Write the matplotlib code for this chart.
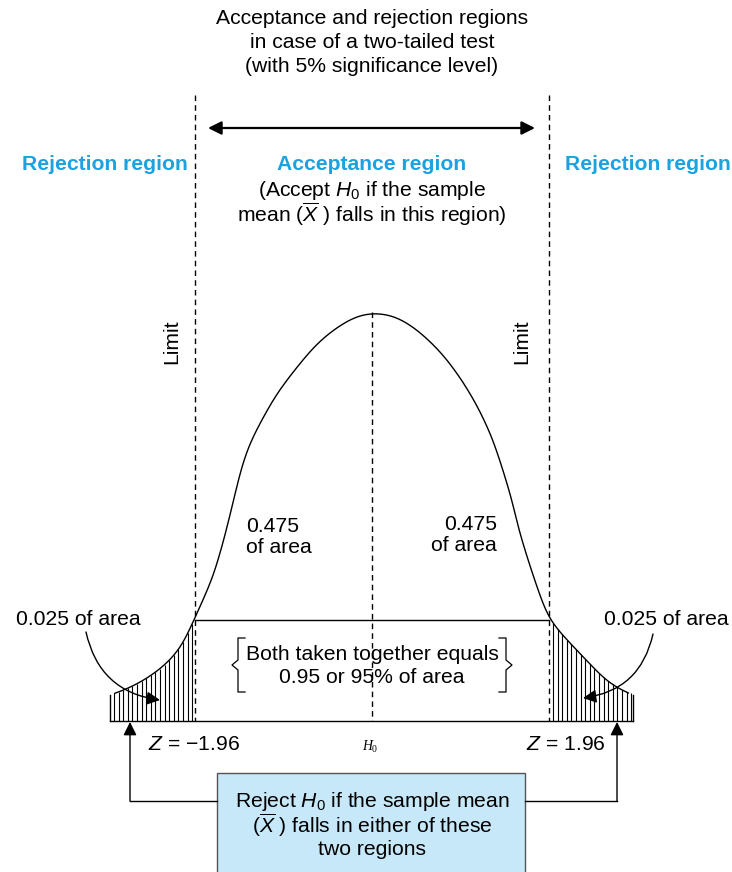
import numpy as np
import matplotlib
matplotlib.use("Agg")
import matplotlib.pyplot as plt
from matplotlib.patches import FancyArrowPatch, Rectangle

plt.rcParams['font.family'] = ['Liberation Sans', 'DejaVu Sans']
plt.rcParams['mathtext.fontset'] = 'custom'
plt.rcParams['mathtext.rm'] = 'Liberation Sans'
plt.rcParams['mathtext.it'] = 'Liberation Sans:italic'

# curve (pixel coords, y down)
curve_x = [110, 133, 160, 180, 194, 203, 213, 223, 232, 240, 248, 260, 277, 297, 317, 337, 357, 371,
           395, 418, 442, 462, 478, 492, 502, 512, 518, 528, 538, 549, 567, 589, 610, 633]
curve_y = [695, 687, 670, 650, 620, 600, 577, 543, 507, 473, 447, 423, 393, 367, 343, 327, 315, 312,
           315, 330, 353, 380, 407, 437, 467, 500, 527, 560, 590, 620, 640, 663, 685, 695]

title_lines = ['Acceptance and rejection regions', 'in case of a two-tailed test',
               '(with 5% significance level)']
box_lines = [r'Reject $H_{\mathregular{0}}$ if the sample mean',
             r'($\overline{X}$ ) falls in either of these', 'two regions']

base_y = 721
limit_left, limit_right, centre = 195, 549, 372
blue = '#1aa3e0'
box_blue = '#c6e8f8'
fs = 15.2


def smooth(xs, ys, n=900, win=61):
    # resample the traced polyline by arc length and soften the corners
    xs = np.asarray(xs, float)
    ys = np.asarray(ys, float)
    d = np.concatenate([[0], np.cumsum(np.hypot(np.diff(xs), np.diff(ys)))])
    s = np.linspace(0, d[-1], n)
    rx, ry = np.interp(s, d, xs), np.interp(s, d, ys)
    k = np.exp(-0.5 * (np.arange(win) - win // 2) ** 2 / (win / 5) ** 2)
    k /= k.sum()
    pad = win // 2
    px = np.concatenate([np.full(pad, rx[0]), rx, np.full(pad, rx[-1])])
    py = np.concatenate([np.full(pad, ry[0]), ry, np.full(pad, ry[-1])])
    return np.convolve(px, k, 'valid'), np.convolve(py, k, 'valid')


fig = plt.figure(figsize=(7.32, 8.72), dpi=100)
ax = fig.add_axes([0, 0, 1, 1])
ax.set_xlim(0, 732)
ax.set_ylim(872, 0)
ax.axis('off')

sx, sy = smooth(curve_x, curve_y)

# bell curve
ax.plot(sx, sy, color='black', lw=1.0)
ax.plot([curve_x[0], curve_x[-1]], [base_y, base_y], color='black', lw=1.0)
ax.plot([curve_x[0], curve_x[0]], [curve_y[0], base_y], color='black', lw=1.0)
ax.plot([curve_x[-1], curve_x[-1]], [curve_y[-1], base_y], color='black', lw=1.0)
ax.plot([limit_left, limit_right], [620, 620], color='black', lw=1.0)

# hatching in the tails
for xs in (np.arange(114, limit_left, 4.6), np.arange(553, 633, 4.6)):
    ys = np.interp(xs, sx, sy)
    ax.vlines(xs, ys, base_y, color='black', lw=0.8)

# limits and centre line
dash = (0, (4, 3))
ax.plot([limit_left, limit_left], [95, base_y], color='black', lw=1.0, ls=dash)
ax.plot([limit_right, limit_right], [95, base_y], color='black', lw=1.0, ls=dash)
ax.plot([centre, centre], [312, base_y], color='black', lw=1.0, ls=dash)

# top double arrow
ax.annotate('', xy=(208, 128), xytext=(535, 128),
            arrowprops=dict(arrowstyle='<|-|>', color='black', lw=1.6,
                            mutation_scale=20, shrinkA=0, shrinkB=0))

# texts
for i, line in enumerate(title_lines):
    ax.text(centre, 19 + 24 * i, line, ha='center', va='center', fontsize=fs)
ax.text(105, 165, 'Rejection region', ha='center', va='center', fontsize=fs, color=blue, weight='bold')
ax.text(648, 165, 'Rejection region', ha='center', va='center', fontsize=fs, color=blue, weight='bold')
ax.text(centre, 165, 'Acceptance region', ha='center', va='center', fontsize=fs, color=blue, weight='bold')
ax.text(centre, 190, r'(Accept $H_{\mathregular{0}}$ if the sample', ha='center', va='center', fontsize=fs)
ax.text(centre, 214, r'mean ($\overline{X}$ ) falls in this region)', ha='center', va='center', fontsize=fs)
ax.text(172, 342, 'Limit', rotation=90, ha='center', va='center', fontsize=fs)
ax.text(522, 342, 'Limit', rotation=90, ha='center', va='center', fontsize=fs)
ax.text(246, 537, '0.475\nof area', ha='left', va='center', fontsize=fs, linespacing=1.1)
ax.text(497, 535, '0.475\nof area', ha='right', va='center', fontsize=fs, linespacing=1.1)
ax.text(78, 619, '0.025 of area', ha='center', va='center', fontsize=fs)
ax.text(666, 619, '0.025 of area', ha='center', va='center', fontsize=fs)
ax.text(centre, 654, 'Both taken together equals', ha='center', va='center', fontsize=fs)
ax.text(centre, 677, '0.95 or 95% of area', ha='center', va='center', fontsize=fs)
ax.text(194, 744, r'$Z$ = $-$1.96', ha='center', va='center', fontsize=fs)
ax.text(566, 744, r'$Z$ = 1.96', ha='center', va='center', fontsize=fs)
ax.text(centre, 746, 'H', ha='right', va='center', fontsize=10, style='italic', family='Liberation Serif')
ax.text(centre, 749, '0', ha='left', va='center', fontsize=7, family='Liberation Serif')

# braces
ax.plot([245, 238, 238, 232, 238, 238, 245], [638, 638, 660, 665, 670, 692, 692], color='black', lw=0.9)
ax.plot([499, 506, 506, 512, 506, 506, 499], [638, 638, 660, 665, 670, 692, 692], color='black', lw=0.9)

# curved arrows to the tails
ax.add_patch(FancyArrowPatch((86, 632), (160, 700), connectionstyle='arc3,rad=0.35',
                             arrowstyle='-|>', mutation_scale=20, color='black', lw=1.0,
                             shrinkA=0, shrinkB=0))
ax.add_patch(FancyArrowPatch((653, 634), (583, 698), connectionstyle='arc3,rad=-0.35',
                             arrowstyle='-|>', mutation_scale=20, color='black', lw=1.0,
                             shrinkA=0, shrinkB=0))

# bottom box and connectors
ax.add_patch(Rectangle((217, 773), 308, 110, facecolor=box_blue, edgecolor='#555555', lw=1.0))
for i, line in enumerate(box_lines):
    ax.text(centre, 801 + 24 * i, line, ha='center', va='center', fontsize=fs)
ax.plot([217, 130], [801, 801], color='black', lw=1.0)
ax.plot([525, 617], [801, 801], color='black', lw=1.0)
ax.annotate('', xy=(130, 722), xytext=(130, 801),
            arrowprops=dict(arrowstyle='-|>', color='black', lw=1.0, mutation_scale=20, shrinkA=0, shrinkB=0))
ax.annotate('', xy=(617, 722), xytext=(617, 801),
            arrowprops=dict(arrowstyle='-|>', color='black', lw=1.0, mutation_scale=20, shrinkA=0, shrinkB=0))

fig.savefig('out.png', dpi=100)
